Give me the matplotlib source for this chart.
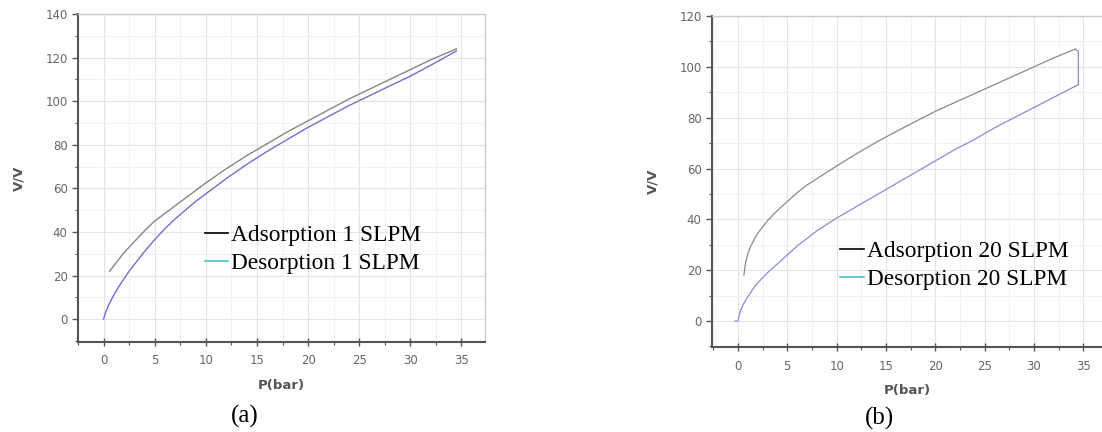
import matplotlib.pyplot as plt
from matplotlib.lines import Line2D
from matplotlib.ticker import MultipleLocator

# --- DATOS ---

# (a) 1 SLPM
p_ads_a = [0.6, 1, 1.5, 2, 2.5, 3, 4, 5, 6, 7, 8, 9, 10, 12, 14, 16, 18, 20,
           22, 24, 26, 28, 30, 32, 34.5]
v_ads_a = [22, 24.5, 27.5, 30.5, 33, 35.5, 40.5, 45, 48.5, 52, 55.5, 59, 62.5,
           69, 75, 80.5, 86, 91, 96, 101, 105.5, 110, 114.5, 119, 124]
p_des_a = [0, 0.2, 0.5, 1, 1.5, 2, 2.5, 3, 4, 5, 6, 7, 8, 9, 10, 12, 14, 16, 18,
           20, 22, 24, 26, 28, 30, 32, 34.5]
v_des_a = [0, 3, 6.5, 11, 15, 18.5, 22, 25, 31, 36.5, 41.5, 46, 50, 54, 57.5,
           64.5, 71, 77, 82.5, 88, 93, 98, 102.5, 107, 111.5, 116.5, 123]

# (b) 20 SLPM
p_ads_b = [0.6, 0.7, 0.8, 1, 1.3, 1.7, 2, 2.5, 3, 4, 5, 6, 7, 8, 9, 10, 12, 14,
           16, 18, 20, 22, 24, 26, 28, 30, 32, 34.2]
v_ads_b = [18, 21, 23.5, 26.5, 29.5, 32.5, 34.5, 37, 39.5, 43.5, 47, 50.5, 53.5,
           56, 58.5, 61, 65.8, 70.3, 74.5, 78.5, 82.5, 86, 89.5, 93, 96.5, 100,
           103.5, 107]
p_des_b = [34.2, 34.5, 34.5, 33, 32, 30, 28, 26, 24, 22, 20, 18, 16, 14, 12, 10,
           8, 6, 5, 4, 3, 2.5, 2, 1.5, 1, 0.6, 0.3, 0.1, 0, -0.3]
v_des_b = [107, 106, 93, 90, 88, 84, 80, 76, 71.5, 67.5, 63, 58.5, 54,
           49.5, 45, 40.5, 35.5, 29.5, 26, 22.5, 19, 17, 15, 12.5, 9.5, 7, 4.5,
           2, 0, 0]

labels_a = ["Adsorption 1 SLPM", "Desorption 1 SLPM"]
labels_b = ["Adsorption 20 SLPM", "Desorption 20 SLPM"]

W, H = 1102, 432
fig = plt.figure(figsize=(W / 100, H / 100), dpi=100)


def px_axes(x0, y0, x1, y1):
    return fig.add_axes([x0 / W, 1 - y1 / H, (x1 - x0) / W, (y1 - y0) / H])


def estilo(ax, xlim, ylim, ystep):
    ax.set_xlim(*xlim)
    ax.set_ylim(*ylim)
    ax.xaxis.set_major_locator(MultipleLocator(5))
    ax.xaxis.set_minor_locator(MultipleLocator(2.5))
    ax.yaxis.set_major_locator(MultipleLocator(ystep))
    ax.yaxis.set_minor_locator(MultipleLocator(ystep / 2))
    ax.grid(which='major', color='#e4e4e4', linewidth=0.8)
    ax.grid(which='minor', color='#f0f0f0', linewidth=0.6)
    ax.set_axisbelow(True)
    for s in ['left', 'bottom']:
        ax.spines[s].set_color('#555555')
        ax.spines[s].set_linewidth(1.5)
    for s in ['top', 'right']:
        ax.spines[s].set_color('#cccccc')
        ax.spines[s].set_linewidth(1.0)
    ax.tick_params(which='major', direction='out', length=4, width=1, color='#555555',
                   labelsize=8.5, labelcolor='#666666')
    ax.tick_params(axis='x', which='major', direction='inout', length=6, pad=6)
    ax.tick_params(which='minor', direction='out', length=2.5, width=0.8, color='#555555')
    ax.set_xlabel("P(bar)", fontsize=9.5, fontweight='bold', color='#555555', labelpad=8)
    ax.set_ylabel("V/V", fontsize=9.5, fontweight='bold', color='#555555', labelpad=14)


def leyenda(ax, labels, x, y):
    handles = [Line2D([], [], color='black', linewidth=1.2),
               Line2D([], [], color='#40c0c8', linewidth=1.2)]
    ax.legend(handles, labels, loc='upper left', bbox_to_anchor=(x, y), frameon=False,
              borderpad=0, borderaxespad=0, handlelength=1.0, handletextpad=0.13,
              labelspacing=0.28, prop={'family': 'Liberation Serif', 'size': 16.8})


# --- (a) ---
ax1 = px_axes(78, 14, 485, 342)
ax1.plot(p_ads_a, v_ads_a, color='#8c8282', linewidth=1.0)
ax1.plot(p_des_a, v_des_a, color='#6f6fd2', linewidth=1.0)
estilo(ax1, (-2.5, 37.3), (-10.5, 140), 20)
leyenda(ax1, labels_a, 0.312, 0.357)

# --- (b) ---
ax2 = px_axes(712, 16, 1103, 347)
ax2.plot(p_ads_b, v_ads_b, color='#8a8a8e', linewidth=0.9)
ax2.plot(p_des_b, v_des_b, color='#8a8ad8', linewidth=0.9)
estilo(ax2, (-2.63, 37.0), (-10.2, 120), 20)
ax2.spines['right'].set_visible(False)
leyenda(ax2, labels_b, 0.328, 0.32)

fig.text(245 / W, 1 - 416 / H, "(a)", ha='center', va='center',
         family='Liberation Serif', fontsize=18)
fig.text(879 / W, 1 - 418 / H, "(b)", ha='center', va='center',
         family='Liberation Serif', fontsize=18)

fig.savefig("out.png", dpi=100)
plt.close()
